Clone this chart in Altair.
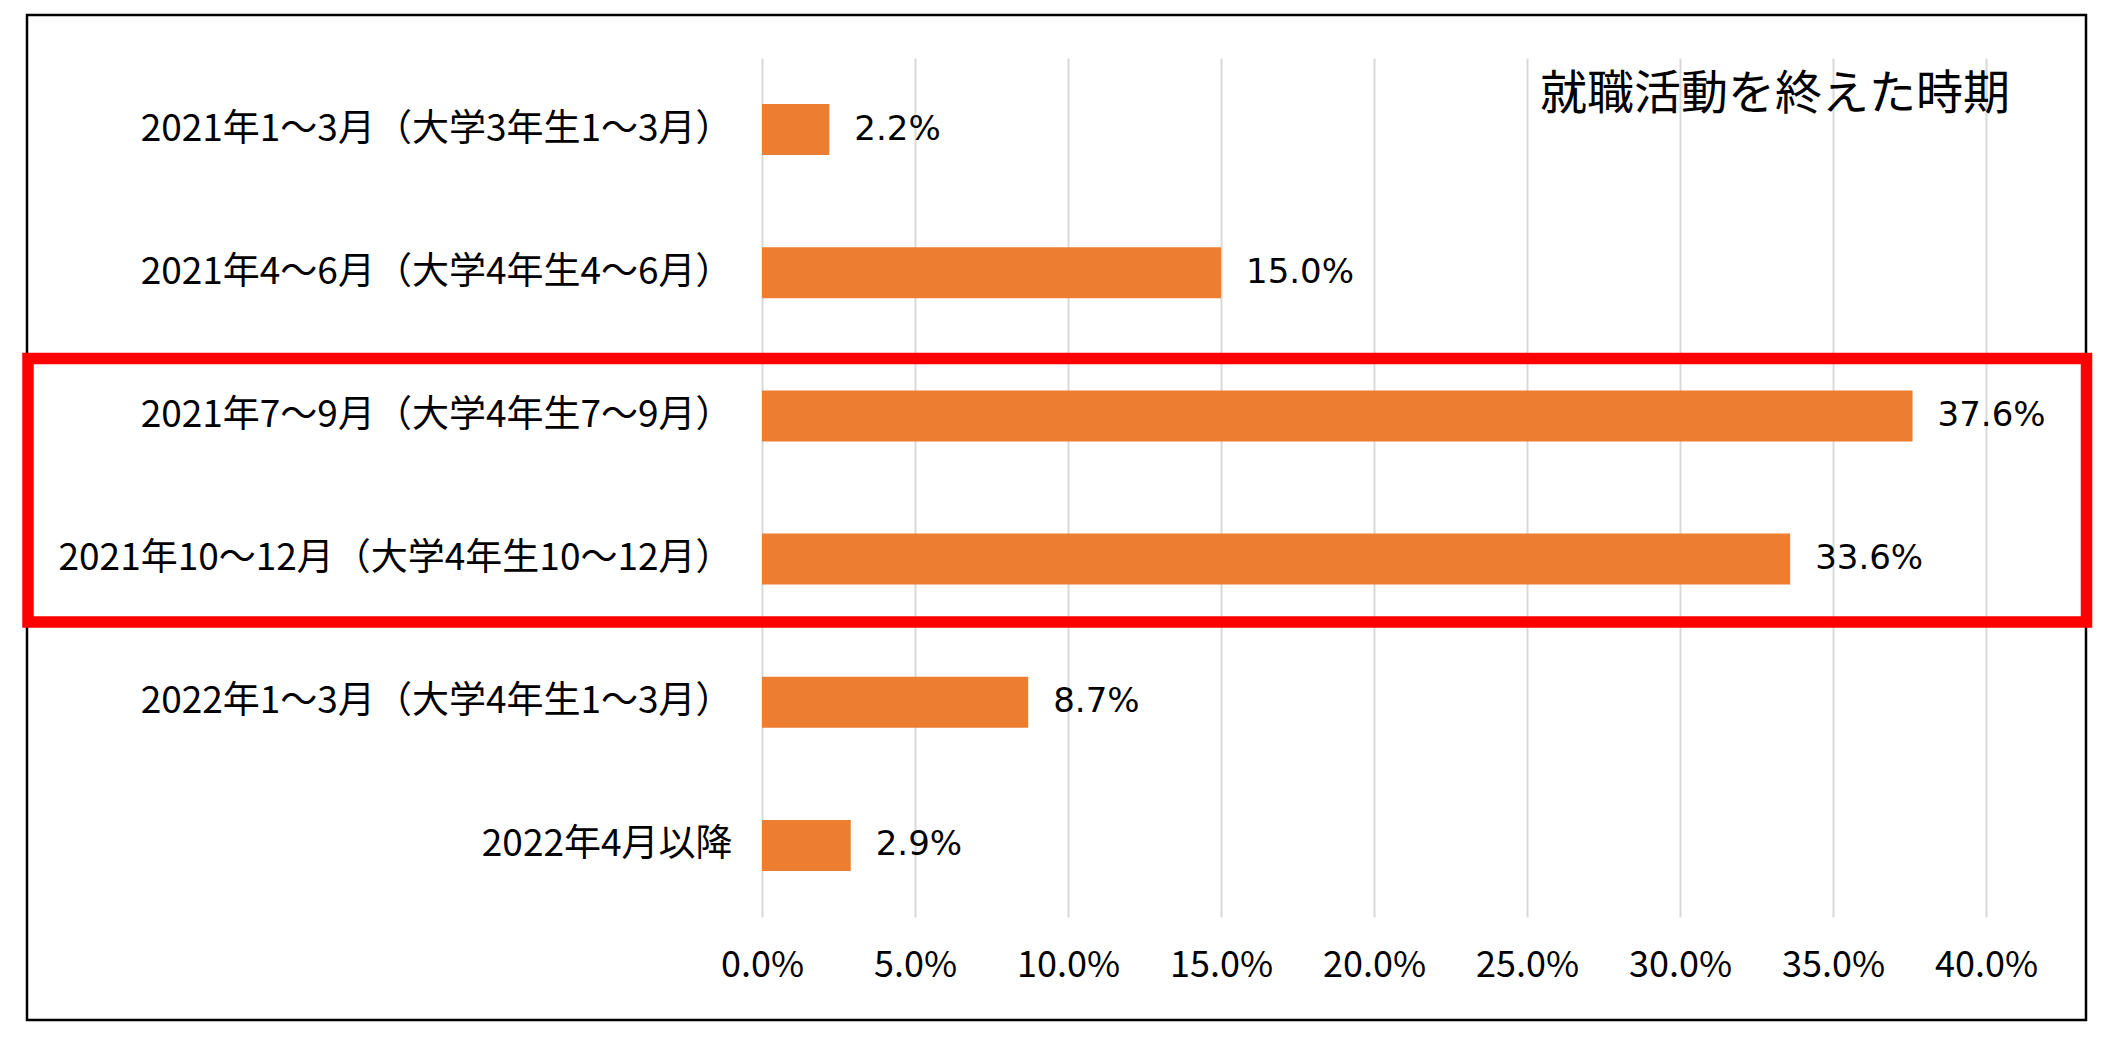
import altair as alt
import pandas as pd

categories = [
    "2021年1～3月（大学3年生1～3月）",
    "2021年4～6月（大学4年生4～6月）",
    "2021年7～9月（大学4年生7～9月）",
    "2021年10～12月（大学4年生10～12月）",
    "2022年1～3月（大学4年生1～3月）",
    "2022年4月以降",
]
values = [0.022, 0.150, 0.376, 0.336, 0.087, 0.029]
tick_values = [0.0, 0.05, 0.10, 0.15, 0.20, 0.25, 0.30, 0.35, 0.40]
title_text = "就職活動を終えた時期"

df = pd.DataFrame({"category": categories, "value": values})

FONT_JP = "Noto Sans CJK JP"

y_enc = alt.Y(
    "category:N",
    sort=categories,
    title=None,
    scale=alt.Scale(paddingInner=0.644, paddingOuter=0.322),
    axis=alt.Axis(
        labelFont=FONT_JP,
        labelFontSize=37,
        labelColor="black",
        labelPadding=30,
        ticks=False,
        domain=False,
        labelLimit=1000,
    ),
)
x_enc = alt.X(
    "value:Q",
    title=None,
    scale=alt.Scale(domain=[0, 0.4], nice=False),
    axis=alt.Axis(
        values=tick_values,
        format=".1%",
        labelFont=FONT_JP,
        labelFontSize=36,
        labelColor="black",
        labelPadding=31,
        labelFlush=False,
        labelOverlap=False,
        ticks=False,
        domain=False,
        grid=True,
        gridColor="#D9D9D9",
        gridWidth=2,
    ),
)

base = alt.Chart(df)

bars = base.mark_bar(color="#ED7D31").encode(x=x_enc, y=y_enc)

labels = base.mark_text(
    align="left",
    baseline="middle",
    dx=25,
    font="DejaVu Sans",
    fontSize=34,
    color="black",
).encode(
    x=alt.X("value:Q"),
    y=alt.Y("category:N", sort=categories),
    text=alt.Text("value:Q", format=".1%"),
)

one = alt.Chart(pd.DataFrame({"t": [title_text]}))

title = one.mark_text(
    align="right",
    baseline="middle",
    font=FONT_JP,
    fontSize=47,
    color="black",
).encode(x=alt.value(1248), y=alt.value(37), text="t:N")

frame = one.mark_rect(fillOpacity=0, stroke="black", strokeWidth=2.5).encode(
    x=alt.value(-735), x2=alt.value(1324), y=alt.value(-43), y2=alt.value(962)
)

highlight = one.mark_rect(fillOpacity=0, stroke="#FF0000", strokeWidth=11.5).encode(
    x=alt.value(-734), x2=alt.value(1324.5), y=alt.value(300.5), y2=alt.value(564)
)

chart = (
    alt.layer(bars, labels, title, frame, highlight)
    .properties(
        width=1224,
        height=859,
        padding={"left": 754, "top": 50, "right": 110, "bottom": 110},
        autosize=alt.AutoSizeParams(type="none"),
        background="white",
    )
    .configure_view(strokeWidth=0)
)

chart.save("out.html", embed_options={"renderer": "svg", "actions": False})
